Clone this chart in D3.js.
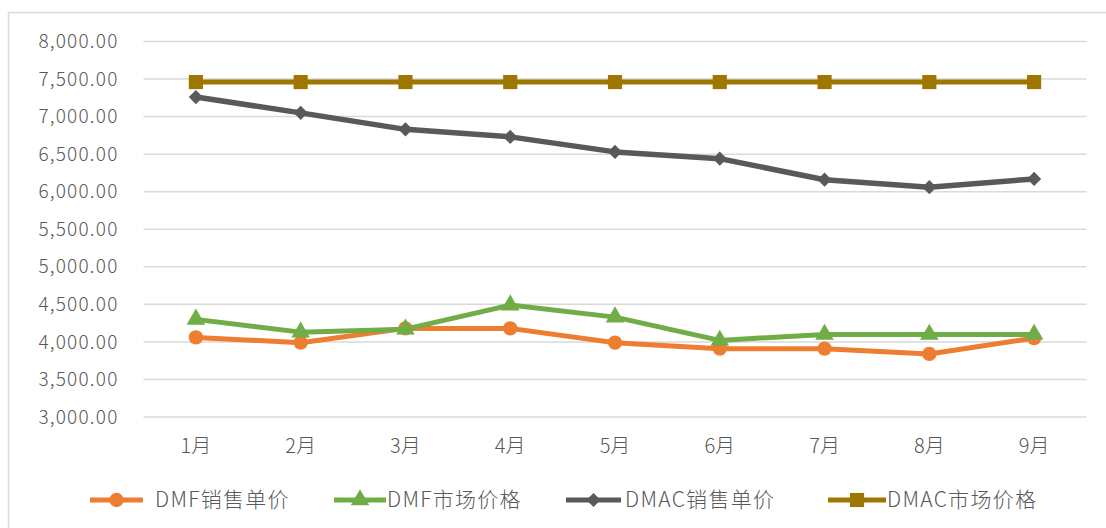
<!DOCTYPE html>
<html>
<head>
<meta charset="utf-8">
<script src="https://cdn.jsdelivr.net/npm/d3@7"></script>
<style>
  body { margin: 0; background: #fff; }
  text { font-family: "Noto Sans CJK SC", "Noto Sans", sans-serif; fill: #595959; font-weight: 300; }
</style>
</head>
<body>
<div id="chart"></div>
<script>
// data
var months = ["1月", "2月", "3月", "4月", "5月", "6月", "7月", "8月", "9月"];
var dmfSale = [4060, 3990, 4180, 4180, 3990, 3910, 3910, 3840, 4050];
var dmfMarket = [4300, 4130, 4170, 4490, 4330, 4020, 4100, 4100, 4100];
var dmacSale = [7260, 7050, 6830, 6730, 6530, 6440, 6160, 6060, 6170];
var dmacMarket = [7460, 7460, 7460, 7460, 7460, 7460, 7460, 7460, 7460];
var yTicks = [3000, 3500, 4000, 4500, 5000, 5500, 6000, 6500, 7000, 7500, 8000];

var series = [
  {name: "DMF销售单价", values: dmfSale, color: "#ED7D31", marker: "circle"},
  {name: "DMF市场价格", values: dmfMarket, color: "#70AD47", marker: "triangle"},
  {name: "DMAC销售单价", values: dmacSale, color: "#595959", marker: "diamond"},
  {name: "DMAC市场价格", values: dmacMarket, color: "#9E7700", marker: "square"}
];

var W = 1106, H = 528;
var margin = {top: 41.5, right: 20, bottom: 111, left: 143.5},
    width = 1086.5 - margin.left,
    height = 417 - margin.top;

var svg = d3.select("#chart")
  .append("svg")
    .attr("width", W)
    .attr("height", H);

// outer frame
svg.append("rect")
  .attr("x", 8.5).attr("y", 12.5)
  .attr("width", W + 10).attr("height", H + 10)
  .attr("fill", "none")
  .attr("stroke", "#d9d9d9")
  .attr("stroke-width", 1.5);

var g = svg.append("g")
  .attr("transform", "translate(" + margin.left + "," + margin.top + ")");

var xScale = d3.scalePoint()
  .domain(months)
  .range([0, width])
  .padding(0.5);

var yScale = d3.scaleLinear()
  .domain([3000, 8000])
  .range([height, 0]);

// gridlines
g.append("g")
  .selectAll("line")
  .data(yTicks)
  .join("line")
    .attr("x1", 0).attr("x2", width)
    .attr("y1", d => yScale(d)).attr("y2", d => yScale(d))
    .attr("stroke", "#d9d9d9")
    .attr("stroke-width", 1.5);

// y axis labels
var fmt = d3.format(",.2f");
g.append("g")
  .selectAll("text")
  .data(yTicks)
  .join("text")
    .attr("x", -25)
    .attr("y", d => yScale(d))
    .attr("dy", "0.35em")
    .attr("text-anchor", "end")
    .style("font-size", "19px")
    .style("letter-spacing", "1.2px")
    .text(d => fmt(d));

// x axis labels
g.append("g")
  .selectAll("text")
  .data(months)
  .join("text")
    .attr("x", d => xScale(d))
    .attr("y", height + 29)
    .attr("dy", "0.35em")
    .attr("text-anchor", "middle")
    .style("font-size", "20px")
    .text(d => d);

var symbols = {
  circle: d3.symbol().type(d3.symbolCircle).size(160),
  triangle: d3.symbol().type(d3.symbolTriangle).size(150),
  diamond: d3.symbol().type(d3.symbolSquare).size(100),
  square: d3.symbol().type(d3.symbolSquare).size(200)
};
var rot = {circle: 0, triangle: 0, diamond: 45, square: 0};

var line = d3.line()
  .x((d, i) => xScale(months[i]))
  .y(d => yScale(d));

// draw bottom-up so the later series sit on top
series.forEach(function(s) {
  g.append("path")
    .datum(s.values)
    .attr("fill", "none")
    .attr("stroke", s.color)
    .attr("stroke-width", s.marker == "diamond" ? 5.5 : 5)
    .attr("stroke-linejoin", "round")
    .attr("d", line);

  g.append("g")
    .selectAll("path")
    .data(s.values)
    .join("path")
      .attr("transform", (d, i) => "translate(" + xScale(months[i]) + "," + yScale(d) + ") rotate(" + rot[s.marker] + ")")
      .attr("d", symbols[s.marker])
      .attr("fill", s.color);
});

// legend
var legendX = [90, 334, 566, 828];
var legendLen = [53, 52, 55, 58];
var textX = [155, 387, 625, 887];
var legend = svg.append("g").attr("class", "legend");
series.forEach(function(s, i) {
  var lg = legend.append("g")
    .attr("transform", "translate(" + legendX[i] + ",500)");
  lg.append("line")
    .attr("x1", 0).attr("x2", legendLen[i])
    .attr("stroke", s.color)
    .attr("stroke-width", 5);
  lg.append("path")
    .attr("transform", "translate(" + legendLen[i] / 2 + ",0) rotate(" + rot[s.marker] + ")")
    .attr("d", symbols[s.marker])
    .attr("fill", s.color);
  lg.append("text")
    .attr("x", textX[i] - legendX[i])
    .attr("dy", "0.35em")
    .style("font-size", "21px")
    .style("letter-spacing", "1.3px")
    .text(s.name);
});
</script>
</body>
</html>
